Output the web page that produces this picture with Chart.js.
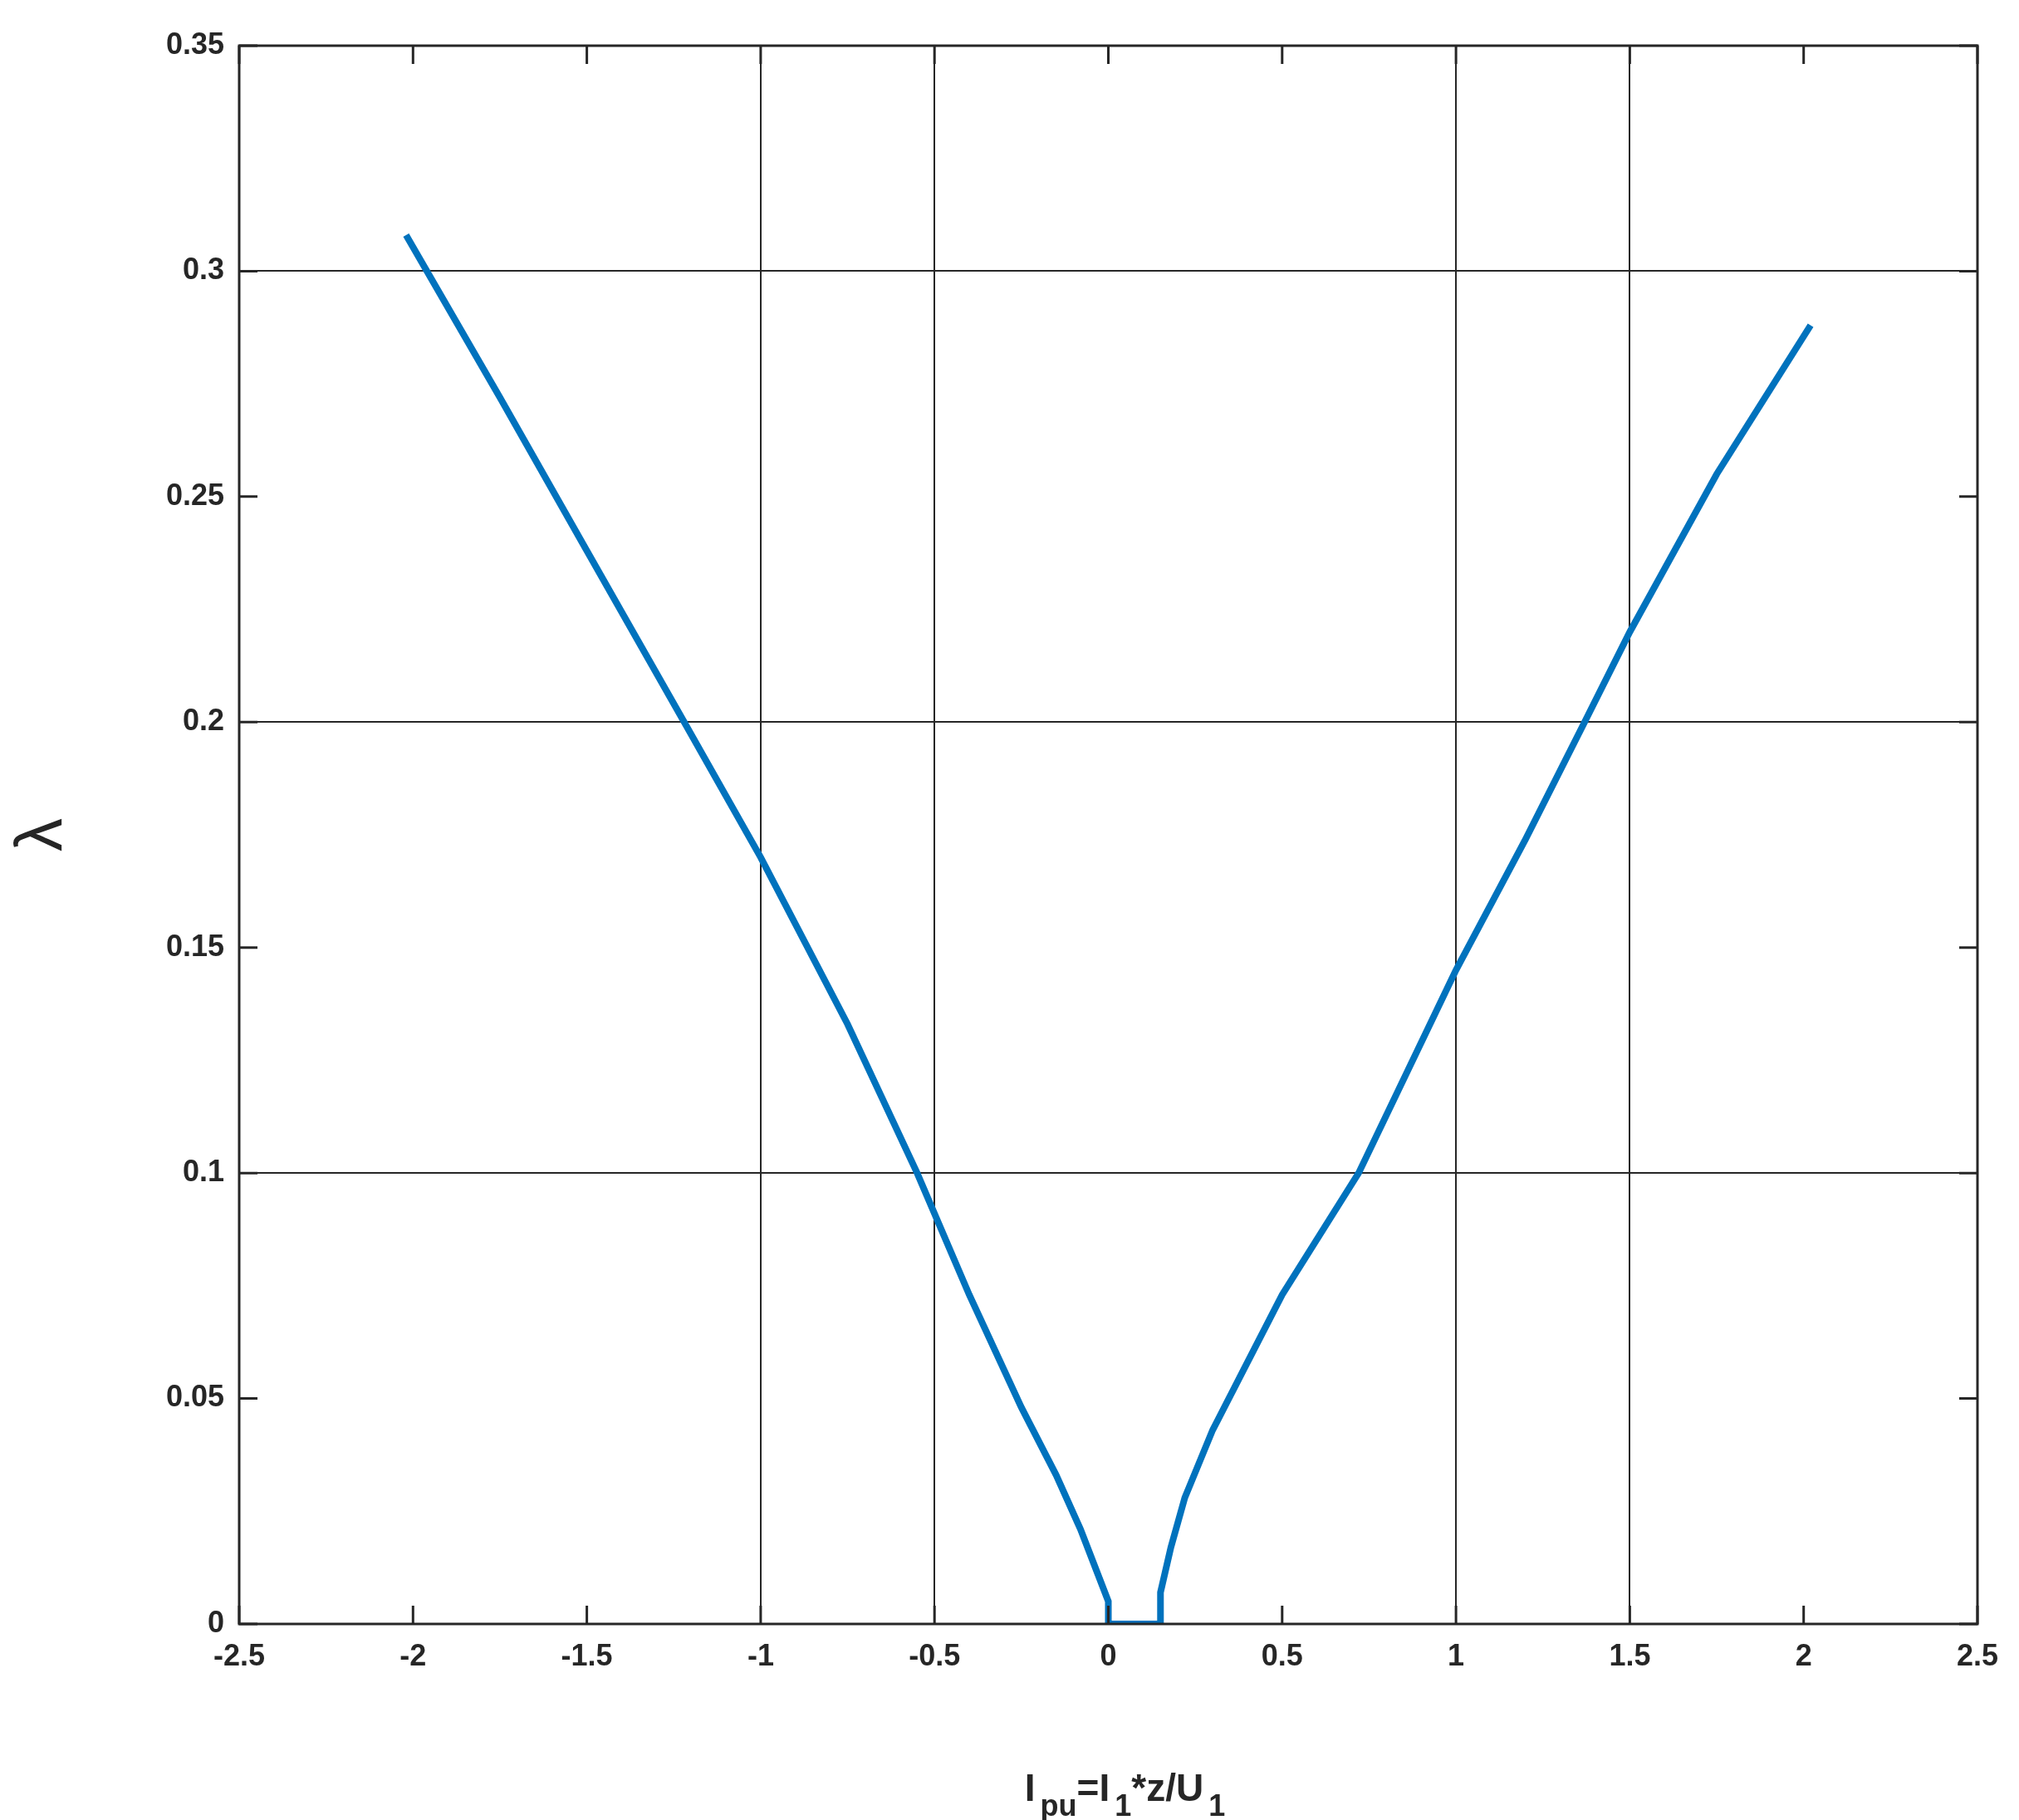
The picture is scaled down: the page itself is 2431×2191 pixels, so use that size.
<!DOCTYPE html>
<html><head><meta charset="utf-8">
<script src="https://cdn.jsdelivr.net/npm/chart.js@4"></script>
<style>html,body{margin:0;padding:0;background:#fff}#w{width:2431px;height:2191px}</style>
</head><body><div id="w"><canvas id="c"></canvas></div>
<script>
var xVals = [-2.02,-1.75,-1.5,-1.22,-1.0,-0.75,-0.55,-0.4,-0.25,-0.15,-0.08,-0.03,0,0,0.15,0.15,0.18,0.22,0.3,0.4,0.5,0.72,1.0,1.2,1.37,1.5,1.75,2.02];
var yVals = [0.308,0.272,0.238,0.2,0.17,0.133,0.1,0.073,0.048,0.033,0.021,0.011,0.005,0,0,0.007,0.017,0.028,0.043,0.058,0.073,0.1,0.145,0.174,0.2,0.22,0.255,0.288];
var xTicks = [-2.5,-2,-1.5,-1,-0.5,0,0.5,1,1.5,2,2.5];
var yTicks = [0,0.05,0.1,0.15,0.2,0.25,0.3,0.35];
var xGrid = [-1,-0.5,1,1.5];
var yGrid = [0.1,0.2,0.3];
var tickFont = {family:'Liberation Sans, Arial', weight:'bold', size:36};
function xGridColor(ctx){ return (ctx.tick && xGrid.indexOf(ctx.tick.value) >= 0) ? '#262626' : 'rgba(0,0,0,0)'; }
function yGridColor(ctx){ return (ctx.tick && yGrid.indexOf(ctx.tick.value) >= 0) ? '#262626' : 'rgba(0,0,0,0)'; }
var inTicks = {
  id: 'inTicks',
  afterDraw: function(ch){
    var c = ch.ctx, a = ch.chartArea, xs = ch.scales.x, ys = ch.scales.y, L = 22;
    c.save();
    c.strokeStyle = '#262626'; c.lineWidth = 3;
    c.strokeRect(a.left, a.top, a.right - a.left, a.bottom - a.top);
    c.beginPath();
    xTicks.forEach(function(v){ var p = xs.getPixelForValue(v); c.moveTo(p, a.bottom); c.lineTo(p, a.bottom - L); c.moveTo(p, a.top); c.lineTo(p, a.top + L); });
    yTicks.forEach(function(v){ var p = ys.getPixelForValue(v); c.moveTo(a.left, p); c.lineTo(a.left + L, p); c.moveTo(a.right, p); c.lineTo(a.right - L, p); });
    c.stroke();
    c.fillStyle = '#262626'; c.textBaseline = 'alphabetic';
    var big = 'bold 46px Liberation Sans, Arial', sm = 'bold 36px Liberation Sans, Arial';
    var parts = [['I', big, 0], ['pu', sm, 18], ['=I', big, 0], ['1', sm, 18], ['*z/U', big, 0], ['1', sm, 18]];
    var w = 0;
    parts.forEach(function(p){ c.font = p[1]; w += c.measureText(p[0]).width + (p[2] ? 6 : 0); });
    var x = (a.left + a.right) / 2 - w / 2 + 20, y = 2168;
    parts.forEach(function(p){ c.font = p[1]; if (p[2]) x += 6; c.fillText(p[0], x, y + p[2]); x += c.measureText(p[0]).width; });
    c.restore();
  }
};
var pts = xVals.map(function(x, i){ return {x: x, y: yVals[i]}; });
new Chart(document.getElementById('c'), {
  type: 'scatter',
  data: { datasets: [{ data: pts, showLine: true, borderColor: '#0072BD', borderWidth: 8, pointRadius: 0, tension: 0 }] },
  options: {
    responsive: true, maintainAspectRatio: false, animation: false,
    layout: { padding: { left: 0, top: 55, right: 50, bottom: 0 } },
    plugins: { legend: { display: false }, tooltip: { enabled: false } },
    scales: {
      x: {
        type: 'linear', min: -2.5, max: 2.5,
        afterBuildTicks: function(s){ s.ticks = xTicks.map(function(v){ return {value: v}; }); },
        afterFit: function(s){ s.height = 236; },
        ticks: { font: tickFont, color: '#262626', padding: 18, callback: function(v){ return String(v); } },
        border: { display: false },
        grid: { drawTicks: false, color: xGridColor, lineWidth: 2, borderDash: [3, 9] }
      },
      y: {
        type: 'linear', min: 0, max: 0.35,
        afterBuildTicks: function(s){ s.ticks = yTicks.map(function(v){ return {value: v}; }); },
        afterFit: function(s){ s.width = 288; },
        ticks: { font: tickFont, color: '#262626', padding: 18, callback: function(v){ return String(v); } },
        border: { display: false },
        title: { display: true, text: 'λ', font: { family: 'Liberation Sans, Arial', size: 80 }, color: '#262626', padding: { bottom: 30 } },
        grid: { drawTicks: false, color: yGridColor, lineWidth: 2, borderDash: [3, 9] }
      }
    }
  },
  plugins: [inTicks]
});
</script></body></html>
